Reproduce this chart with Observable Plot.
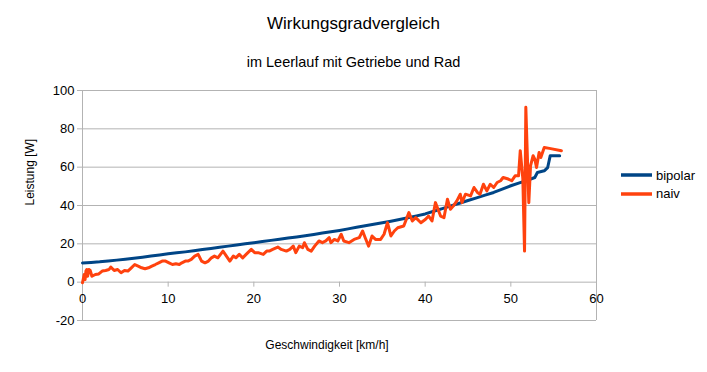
<!DOCTYPE html>
<html>
<head>
<meta charset="utf-8">
<script src="https://cdn.jsdelivr.net/npm/d3@7"></script>
<script src="https://cdn.jsdelivr.net/npm/@observablehq/plot@0.6"></script>
<style>
  body { margin: 0; background: #fff; font-family: "Liberation Sans", Arial, sans-serif; }
  #wrap { position: relative; width: 707px; height: 372px; overflow: hidden; }
  .t { position: absolute; white-space: nowrap; color: #000; }
  #title { top: 14px; left: 0; width: 707px; text-align: center; font-size: 17px; line-height: 20px; }
  #subtitle { top: 52px; left: 0; width: 707px; text-align: center; font-size: 14.5px; line-height: 20px; }
  #xlabel { top: 335px; left: 227px; width: 200px; text-align: center; font-size: 12px; line-height: 20px; }
  #chart { position: absolute; top: 80px; left: 0; }
  #legend { position: absolute; left: 620px; top: 166px; font-size: 13px; }
  .item { display: flex; align-items: center; height: 18.5px; }
  .item svg { margin-right: 4px; }
</style>
</head>
<body>
<div id="wrap">
  <div class="t" id="title"></div>
  <div class="t" id="subtitle"></div>
  <div id="chart"></div>
  <div class="t" id="xlabel"></div>
  <div id="legend"></div>
</div>
<script>
const titleText = "Wirkungsgradvergleich";
const subtitleText = "im Leerlauf mit Getriebe und Rad";
const xLabel = "Geschwindigkeit [km/h]";
const yLabel = "Leistung [W]";
const seriesNames = ["bipolar", "naiv"];
const seriesColors = ["#004586", "#ff420e"];
const xTicks = [0, 10, 20, 30, 40, 50, 60];
const yTicks = [-20, 0, 20, 40, 60, 80, 100];

const bipolarX = [0,1,2,3,4,5,6,7,8,9,10,11,12,13,14,15,16,17,18,19,20,21,22,23,24,25,26,27,28,29,30,31,32,33,34,35,36,37,38,39,40,41,42,43,44,45,46,47,48,49,50,51,52,52.8,53.1,53.9,54.3,54.6,55.7];
const bipolarY = [10,10.3,10.6,11,11.5,12,12.5,13,13.6,14.2,14.8,15.3,15.8,16.4,17,17.6,18.2,18.8,19.4,20,20.6,21.2,21.8,22.4,23,23.6,24.2,24.9,25.6,26.3,27,27.8,28.6,29.4,30.2,31,31.8,32.7,33.6,34.6,35.6,37,38.4,39.8,41.2,42.6,44,45.4,46.8,48.5,50.3,51.8,53.2,54.6,57.2,58.1,59.8,66,66];

const naivX = [0,0.2,0.3,0.4,0.5,0.6,0.75,0.9,1.1,1.5,1.9,2.3,2.7,3.1,3.3,3.7,4.1,4.5,4.9,5.3,5.7,6.1,6.5,6.9,7.3,7.7,8.1,8.5,8.9,9.3,9.7,10.1,10.5,10.9,11.3,11.6,12.0,12.3,12.7,13.1,13.5,13.9,14.3,14.7,15.05,15.4,15.8,16.4,16.8,17.2,17.6,17.9,18.3,18.7,19.1,19.7,20.1,20.5,21.1,21.5,21.8,22.2,22.8,23.2,23.8,24.2,24.6,24.9,25.3,25.7,25.9,26.3,26.7,27.1,27.6,28.0,28.4,28.8,29.0,29.4,29.8,30.2,30.5,31.1,31.7,32.3,32.7,33.0,33.4,33.8,34.2,34.8,35.2,35.6,36.0,36.4,36.8,37.5,38.1,38.5,38.9,39.5,40.05,40.4,40.8,41.2,41.8,42.2,42.6,42.95,43.3,43.7,44.1,44.3,44.7,45.3,45.7,46.1,46.4,46.8,47.2,47.6,48.0,48.4,48.8,49.1,49.7,50.1,50.5,50.9,51.1,51.4,51.6,51.75,52.1,52.3,52.6,52.8,53.0,53.3,53.5,53.9,54.5,55.9];
const naivY = [-0.3,4.0,1.4,5.8,6.6,3.1,6.6,6.1,3.1,4.0,4.3,5.8,6.1,6.6,7.9,6.1,6.6,4.9,6.1,5.8,7.5,9.2,8.4,7.5,7.0,7.5,8.4,9.2,10.1,11.0,11.0,10.1,9.2,9.6,9.2,10.1,11.0,11.0,11.9,13.6,14.5,11.0,10.1,11.0,12.7,13.6,12.7,16.2,13.6,11.0,13.6,12.7,14.5,12.7,14.5,17.1,15.4,15.4,14.5,16.2,16.2,17.1,18.3,17.1,16.2,17.1,18.8,15.4,18.8,18.0,20.6,17.1,16.2,18.8,21.5,20.6,21.5,23.2,20.6,22.3,21.5,25.0,21.5,20.6,22.3,23.2,26.7,23.2,18.8,24.1,22.3,22.3,25.0,31.0,24.1,26.7,28.4,29.3,36.3,31.9,33.7,31.0,32.8,34.5,31.9,41.5,34.5,33.7,43.3,38.0,39.8,42.4,45.9,41.5,45.9,45.0,49.4,46.8,45.9,51.1,47.6,51.1,49.4,52.0,52.9,54.6,53.8,52.9,55.5,55.5,68.6,54.0,16.2,91.3,41.5,60.7,66.0,64.2,59.8,67.7,65.0,70.3,69.8,68.6];

const bipolar = bipolarX.map((x, i) => ({x, y: bipolarY[i]}));
const naiv = naivX.map((x, i) => ({x, y: naivY[i]}));

document.getElementById("title").textContent = titleText;
document.getElementById("subtitle").textContent = subtitleText;
document.getElementById("xlabel").textContent = xLabel;

const grid = "#b3b3b3";
const chart = Plot.plot({
  width: 707,
  height: 250,
  marginTop: 10,
  marginBottom: 10,
  marginLeft: 82,
  marginRight: 111,
  style: { fontFamily: "Liberation Sans, Arial, sans-serif", fontSize: "13px", background: "white", color: "black" },
  x: { domain: [0, 60], axis: null },
  y: { domain: [-20, 100], axis: null },
  marks: [
    Plot.ruleY(yTicks, { stroke: grid, strokeWidth: 1, insetLeft: -5 }),
    Plot.ruleX([0, 60], { stroke: grid, strokeWidth: 1 }),
    Plot.ruleX(xTicks, { x: d => d, y1: () => 0, y2: () => 0, insetBottom: -5, stroke: grid, strokeWidth: 1 }),
    Plot.text(yTicks, { x: () => 0, y: d => d, text: d => String(d), textAnchor: "end", dx: -8, fontSize: 13, fill: "black" }),
    Plot.text(xTicks, { x: d => d, y: () => 0, text: d => String(d), dy: 17, fontSize: 13, fill: "black" }),
    Plot.text([yLabel], { frameAnchor: "left", rotate: -90, dx: -52, fontSize: 12, fill: "black" }),
    Plot.line(bipolar, { x: "x", y: "y", stroke: seriesColors[0], strokeWidth: 3, strokeLinejoin: "round" }),
    Plot.line(naiv, { x: "x", y: "y", stroke: seriesColors[1], strokeWidth: 3, strokeLinejoin: "round" })
  ]
});
document.getElementById("chart").appendChild(chart);

const legend = document.getElementById("legend");
seriesNames.forEach((name, i) => {
  const item = document.createElement("div");
  item.className = "item";
  item.innerHTML = `<svg width="32" height="6"><line x1="1" y1="3" x2="32" y2="3" stroke="${seriesColors[i]}" stroke-width="3.5"/></svg><span>${name}</span>`;
  legend.appendChild(item);
});
</script>
</body>
</html>
